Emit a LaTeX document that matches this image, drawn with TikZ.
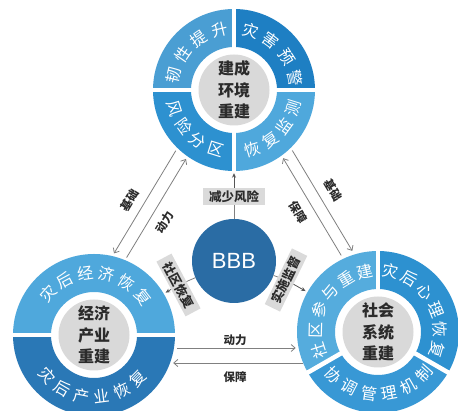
\documentclass[tikz,border=0pt]{standalone}
\usepackage{fontspec}
\setmainfont{Noto Sans CJK SC}
\newfontfamily\latinsans{Liberation Sans}
\usetikzlibrary{arrows.meta,calc}
\definecolor{segA}{HTML}{4A9ED3}
\definecolor{segB}{HTML}{1E7FC3}
\definecolor{segC}{HTML}{2D91D0}
\definecolor{segD}{HTML}{4FA8DC}
\definecolor{segE}{HTML}{2A78B6}
\definecolor{segF}{HTML}{55ACDD}
\definecolor{segG}{HTML}{3898D5}
\definecolor{bbbblue}{HTML}{2A6CA4}
\definecolor{coregray}{HTML}{D9D9D9}
\definecolor{boxgray}{HTML}{DADADA}
\definecolor{textdark}{HTML}{2B2B2B}
\definecolor{linegray}{HTML}{808080}
\newcommand\ringseg[4]{%
  \fill[#4] ($(#1)+(#2:81)$) arc[start angle=#2, end angle=#3, radius=81]
    -- ($(#1)+(#3:43)$) arc[start angle=#3, end angle=#2, radius=43] -- cycle;}
\newcommand\ringcw[6]{%
  \foreach \ch [count=\i] in {#5} {
    \pgfmathsetmacro\ang{#2+#3*((#4+1)/2-\i)}
    \node[ringtxt, rotate=\ang-90] (#6\i) at ($(#1)+(\ang:62)$) {\ch};
  }}
\newcommand\ringccw[6]{%
  \foreach \ch [count=\i] in {#5} {
    \pgfmathsetmacro\ang{#2-#3*((#4+1)/2-\i)}
    \node[ringtxt, rotate=\ang+90] (#6\i) at ($(#1)+(\ang:62)$) {\ch};
  }}
\begin{document}
\begin{tikzpicture}[x=1pt,y=1pt,
  ringtxt/.style={text=white, font=\fontsize{16}{16}\selectfont, inner sep=0pt},
  core/.style={circle, fill=coregray, minimum size=71pt, inner sep=0pt, align=center,
    text=textdark, font=\bfseries\fontsize{16}{21.5}\selectfont},
  ringnode/.style={circle, minimum size=166pt, inner sep=0pt, draw=none},
  gap/.style={white, line width=4.5pt},
  lbox/.style={fill=boxgray, text=textdark, font=\bfseries\fontsize{12.5}{13}\selectfont,
    minimum width=62pt, minimum height=17pt, inner sep=2pt},
  conn/.style={draw=linegray, line width=0.8pt},
  tip/.style={-{Stealth[length=4.5pt,width=4pt]}, draw=textdark!80},
  pair/.style={draw=linegray, line width=0.8pt, -{Straight Barb[length=4pt,width=7pt]}},
  plabel/.style={text=textdark, font=\bfseries\fontsize{11.5}{12}\selectfont, inner sep=1pt},
]
\useasboundingbox (0,0) rectangle (458,411);
\fill[white] (0,0) rectangle (458,411);

% ring anchor nodes
\node[ringnode] (T) at (234,321) {};
\node[ringnode] (L) at (94,76) {};
\node[ringnode] (R) at (378,79) {};

% top circle
\ringseg{T}{90}{180}{segA}
\ringseg{T}{0}{90}{segB}
\ringseg{T}{180}{270}{segC}
\ringseg{T}{270}{360}{segD}
\draw[gap] ($(T)+(0:86)$) -- ($(T)+(180:86)$);
\draw[gap] ($(T)+(90:86)$) -- ($(T)+(270:86)$);
\node[core] (Tc) at (T) {建成\\环境\\重建};
\ringcw{T}{135}{21}{4}{韧,性,提,升}{ta}
\ringcw{T}{43}{21}{4}{灾,害,预,警}{tb}
\ringccw{T}{225}{18.5}{4}{风,险,分,区}{tc}
\ringccw{T}{315}{18.5}{4}{恢,复,监,测}{td}

% bottom-left circle
\ringseg{L}{0}{180}{segD}
\ringseg{L}{180}{360}{segE}
\draw[gap] ($(L)+(0:86)$) -- ($(L)+(180:86)$);
\node[core] (Lc) at (L) {经济\\产业\\重建};
\ringcw{L}{88}{20}{6}{灾,后,经,济,恢,复}{la}
\ringccw{L}{268}{19}{6}{灾,后,产,业,恢,复}{lb}

% bottom-right circle
\ringseg{R}{90}{210}{segF}
\ringseg{R}{-30}{90}{segC}
\ringseg{R}{210}{330}{segG}
\draw[gap] (R.center) -- ($(R)+(90:86)$);
\draw[gap] (R.center) -- ($(R)+(210:86)$);
\draw[gap] (R.center) -- ($(R)+(-30:86)$);
\node[core] (Rc) at (R) {社会\\系统\\重建};
\ringcw{R}{150}{19}{6}{社,区,参,与,重,建}{ra}
\ringcw{R}{31}{19}{6}{灾,后,心,理,恢,复}{rb}
\ringccw{R}{271}{19}{6}{协,调,管,理,机,制}{rc}

% centre
\node[circle, fill=bbbblue, minimum size=84pt, inner sep=0pt, text=white,
  font=\latinsans\fontsize{22}{22}\selectfont] (B) at (234,150) {BBB};

\node[lbox] (b0) at (234,214.5) {减少风险};
\node[lbox, rotate=-62] (b1) at (178.5,126) {社区恢复};
\node[lbox, rotate=64] (b2) at (286,131) {实施监督};

\draw[conn] (B) -- (b0);
\draw[conn, tip] (b0) -- (T);
\draw[conn] (B) -- (b1);
\draw[conn, tip] (b1) -- (L);
\draw[conn] (B) -- (b2);
\draw[conn, tip] (b2) -- (R);

% paired connectors
\coordinate (p1s) at (175.8,260.3); \coordinate (p1e) at (114,157.6);
\coordinate (p2s) at (126.6,153.4); \coordinate (p2e) at (186,252);
\coordinate (p3s) at (341.2,155.6); \coordinate (p3e) at (283.1,252.8);
\coordinate (p4s) at (292.3,260.5); \coordinate (p4e) at (352.3,160.1);
\coordinate (p5s) at (177,63);      \coordinate (p5e) at (295.7,63);
\coordinate (p6s) at (303,48);      \coordinate (p6e) at (173.2,48);
\draw[pair] (p1s) -- (p1e);
\draw[pair] (p2s) -- (p2e);
\draw[pair] (p3s) -- (p3e);
\draw[pair] (p4s) -- (p4e);
\draw[pair] (p5s) -- (p5e);
\draw[pair] (p6s) -- (p6e);

\node[plabel, rotate=59] (l1) at (130,211) {基础};
\node[plabel, rotate=59] (l2) at (165,189) {动力};
\node[plabel, rotate=-59] (l3) at (298,199) {保障};
\node[plabel, rotate=-59] (l4) at (333,221) {基础};
\node[plabel] (l5) at (235,71) {动力};
\node[plabel] (l6) at (235,34) {保障};
\end{tikzpicture}
\end{document}
